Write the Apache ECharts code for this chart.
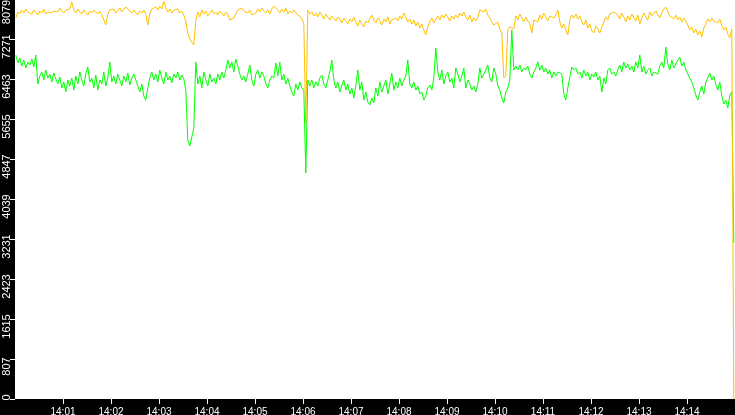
<!DOCTYPE html>
<html>
<head>
<meta charset="utf-8">
<script src="https://cdn.jsdelivr.net/npm/echarts@6/dist/echarts.min.js"></script>
<style>
  html, body { margin: 0; padding: 0; background: #000; }
  #chart { width: 735px; height: 415px; }
</style>
</head>
<body>
<div id="chart"></div>
<script>
// ---- data ----
const xTickLabels = ['14:01','14:02','14:03','14:04','14:05','14:06','14:07','14:08','14:09','14:10','14:11','14:12','14:13','14:14'];
const yTickLabels = ['0','807','1615','2423','3231','4039','4847','5655','6463','7271','8079'];
const axisStart = '14:00:00';
const axisEnd = '14:15:00';
const sampleStart = '14:00:01';
const sampleStepSeconds = 2.5;
const yMax = 8079;

const greenValues = [
  6948,6787,6887,6726,6847,6686,6807,6746,6867,6706,
  6948,6362,6524,6605,6443,6645,6483,6564,6403,6585,
  6463,6362,6504,6282,6403,6201,6443,6322,6483,6241,
  6524,6362,6605,6443,6322,6564,6706,6403,6483,6282,
  6544,6241,6443,6362,6605,6322,6483,6807,6403,6524,
  6362,6564,6443,6322,6524,6403,6585,6342,6483,6564,
  6443,6322,6201,6362,6120,6039,6282,6483,6605,6443,
  6564,6403,6645,6483,6362,6605,6443,6524,6383,6564,
  6483,6605,6443,6544,6463,6241,5231,5110,5090,5473,
  6807,6362,6524,6282,6605,6443,6322,6564,6403,6483,
  6362,6564,6443,6605,6483,6645,6847,6686,6807,6605,
  6867,6726,6564,6443,6524,6403,6564,6746,6443,6322,
  6564,6645,6483,6605,6524,6362,6282,6443,6524,6483,
  6787,6524,6807,6443,6564,6362,6483,6322,6201,6120,
  6362,6241,6403,6282,6241,4564,6443,6322,6443,6282,
  6403,6322,6483,6544,6362,6282,6443,6605,6847,6443,
  6282,6403,6201,6322,6443,6241,6362,6160,6282,6080,
  6322,6645,6241,6403,6039,6201,5999,5938,6080,5978,
  6282,6120,6403,6201,6322,6443,6160,6362,6585,6241,
  6403,6282,6483,6322,6443,6524,6847,6362,6282,6403,
  6241,6322,6160,6201,6039,6120,6282,6342,6241,6483,
  7089,6605,6443,6645,6362,6524,6605,6403,6483,6282,
  6686,6564,6403,6524,6686,6282,6443,6362,6241,6322,
  6201,6362,6686,6483,6564,6645,6746,6483,6403,6686,
  6564,6322,6241,6080,5978,6201,6282,6443,7453,6645,
  6726,6645,6746,6605,6686,6645,6726,6564,6483,6605,
  6686,6807,6645,6746,6605,6686,6564,6645,6483,6605,
  6524,6605,6645,6564,6160,6039,6282,6322,6706,6645,
  6686,6564,6605,6483,6645,6524,6605,6443,6564,6504,
  6605,6443,6524,6201,6483,6362,6645,6686,6564,6605,
  6524,6645,6746,6605,6807,6686,6766,6645,6726,6605,
  6807,6686,6948,6605,6726,6564,6645,6686,6524,6605,
  6645,6564,6726,6807,6686,7110,6766,6645,6847,6686,
  6766,6847,6908,6726,6807,6645,6605,6483,6403,6282,
  6140,6039,6201,6322,6160,6403,6483,6585,6443,6524,
  6362,6241,6403,6120,5958,6039,5877,6140,6201,3151
];

const orangeValues = [
  7695,7817,7776,7857,7796,7877,7817,7837,7776,7857,
  7817,7756,7837,7796,7877,7776,7817,7857,7796,7837,
  7877,7817,7897,7837,7796,7857,7817,7877,8019,7857,
  7796,7877,7817,7776,7857,7817,7756,7837,7796,7857,
  7817,7776,7837,7756,7796,7554,7776,7857,7817,7877,
  7796,7837,7897,7817,7857,7918,7958,7837,7796,7857,
  7817,7756,7837,7796,7857,7776,7554,7796,7877,7897,
  7918,7857,7938,7877,8039,7897,7817,7877,7796,7857,
  7817,7877,7796,7837,7756,7615,7392,7271,7251,7150,
  7655,7817,7716,7857,7776,7837,7736,7796,7857,7776,
  7817,7756,7837,7796,7736,7817,7776,7655,7615,7695,
  7776,7857,7817,7897,7837,7877,7796,7857,7756,7716,
  7796,7877,7817,7897,7837,7796,7857,7776,7877,7938,
  7978,7857,7796,7877,7817,7897,7776,7837,7796,7857,
  7817,7756,7776,7695,7574,5574,7857,7776,7817,7736,
  7796,7716,7817,7756,7675,7776,7716,7655,7736,7695,
  7635,7716,7675,7594,7695,7655,7574,7675,7615,7716,
  7615,7534,7655,7574,7514,7635,7594,7675,7756,7655,
  7594,7695,7635,7554,7675,7615,7716,7574,7655,7615,
  7695,7635,7736,7675,7796,7716,7615,7675,7574,7655,
  7534,7615,7493,7574,7453,7352,7514,7615,7695,7594,
  7675,7736,7655,7756,7695,7776,7716,7635,7736,7675,
  7756,7695,7796,7736,7817,7716,7655,7756,7615,7695,
  7635,7716,7857,7897,7817,7877,7756,7695,7615,7554,
  7534,7615,7473,7392,6483,6524,7453,7514,7554,7473,
  7736,7655,7776,7695,7615,7716,7635,7574,7392,7655,
  7695,7615,7756,7675,7796,7716,7635,7736,7776,7695,
  7756,7857,7615,7493,7574,7453,7352,7655,7756,7695,
  7776,7675,7736,7615,7554,7655,7493,7574,7433,7392,
  7534,7473,7392,7352,7615,7716,7655,7776,7736,7817,
  7857,7756,7675,7796,7716,7615,7736,7655,7776,7695,
  7635,7756,7574,7695,7796,7716,7655,7817,7736,7776,
  7837,7756,7695,7796,7877,7918,7817,7736,7776,7675,
  7756,7655,7716,7615,7695,7635,7554,7453,7514,7392,
  7473,7352,7433,7312,7493,7574,7675,7615,7695,7635,
  7655,7594,7675,7534,7453,7514,7372,7291,7473,0
];

// ---- helpers ----
function toTime(hms) {
  const p = hms.split(':').map(Number);
  return new Date(2024, 0, 1, p[0], p[1], p[2] || 0).getTime();
}
const t0 = toTime(sampleStart);
const times = greenValues.map((_, i) => t0 + i * sampleStepSeconds * 1000);
const xTickValues = xTickLabels.map(l => toTime(l));
const yInterval = yMax / 10;
const FONT_X = 'Liberation Sans';
const FONT_Y = "'Liberation Sans Narrow', 'Liberation Sans'";

function hhmm(v) {
  const d = new Date(v);
  return String(d.getHours()).padStart(2, '0') + ':' + String(d.getMinutes()).padStart(2, '0');
}

const chart = echarts.init(document.getElementById('chart'), null, { renderer: 'canvas' });
chart.setOption({
  animation: false,
  backgroundColor: '#000',
  grid: [
    { left: 15, right: 0, top: -1, bottom: 16, show: true, backgroundColor: '#fff', borderWidth: 0,
      containLabel: false, outerBoundsMode: 'none' },
    { left: 15, right: 0, top: 6.5, bottom: 8.5, show: false,
      containLabel: false, outerBoundsMode: 'none' }
  ],
  xAxis: [
    {
      type: 'value', gridIndex: 0,
      min: toTime(axisStart), max: toTime(axisEnd),
      axisLine: { show: false },
      axisTick: { show: true, customValues: xTickValues, length: 5, lineStyle: { color: '#fff', width: 1 } },
      axisLabel: {
        show: true, customValues: xTickValues, formatter: hhmm,
        align: 'center', verticalAlign: 'top',
        color: '#fff', fontSize: 10, fontFamily: FONT_X, margin: 8
      },
      splitLine: { show: false }
    },
    { type: 'value', gridIndex: 1, show: false, min: 0, max: 1 }
  ],
  yAxis: [
    {
      type: 'value', gridIndex: 0, min: 0, max: yMax, interval: yInterval,
      axisLine: { show: false },
      axisTick: { show: true, length: 5, lineStyle: { color: '#fff', width: 1 } },
      axisLabel: { show: false },
      splitLine: { show: false }
    },
    {
      type: 'value', gridIndex: 1, min: 0, max: yMax, interval: yInterval,
      axisLine: { show: false },
      axisTick: { show: false },
      splitLine: { show: false },
      axisLabel: {
        show: true, rotate: 90, align: 'center', verticalAlign: 'bottom', margin: 3,
        hideOverlap: false,
        color: '#fff', fontSize: 11, fontFamily: FONT_Y,
        formatter: function (v) {
          const idx = Math.round(v / yInterval);
          const s = yTickLabels[idx];
          if (idx === yTickLabels.length - 1) return '{top|' + s + '}';
          if (idx === 0) return '{bot|' + s + '}';
          return s;
        },
        rich: {
          top: { color: '#fff', fontSize: 11, fontFamily: FONT_Y, padding: [0, 11, 0, 0] },
          bot: { color: '#fff', fontSize: 11, fontFamily: FONT_Y, padding: [0, 0, 0, 18] }
        }
      }
    }
  ],
  series: [
    {
      name: 'green', type: 'line', xAxisIndex: 0, yAxisIndex: 0,
      showSymbol: false, symbol: 'none',
      lineStyle: { color: '#00ff00', width: 1 },
      data: times.map((t, i) => [t, greenValues[i]])
    },
    {
      name: 'orange', type: 'line', xAxisIndex: 0, yAxisIndex: 0,
      showSymbol: false, symbol: 'none',
      lineStyle: { color: '#ffc000', width: 1 },
      data: times.map((t, i) => [t, orangeValues[i]])
    }
  ]
});
</script>
</body>
</html>
